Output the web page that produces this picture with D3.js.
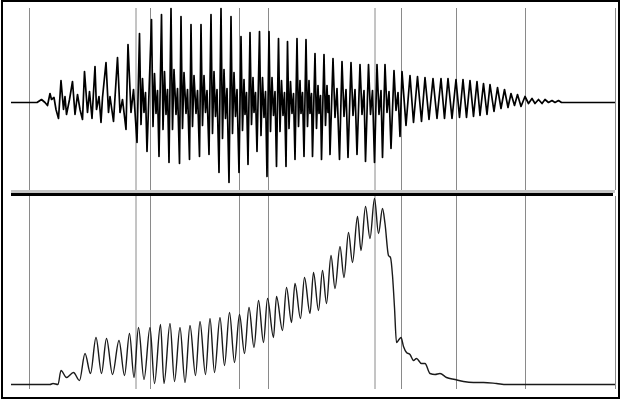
<!DOCTYPE html>
<html>
<head>
<meta charset="utf-8">
<script src="https://cdn.jsdelivr.net/npm/d3@7"></script>
<style>
	body { margin: 0; background: #fff; }
	svg { display: block; }
</style>
</head>
<body>
<div id="chart"></div>
<script>
// time in ms, segment marks
var gridTimes = [37, 250, 279, 457, 515, 728, 781, 891, 1029, 1209];

// top panel: waveform extrema [time ms, amplitude]
var wave = [
	[0,0],[52,0],[61,3],[68,0],[73,-3],[78,9],[81,3],[86,5],[90,-7],[95,-16],
	[100,22],[105,-7],[108,6],[111,-12],[117,3],[123,21],[128,-12],[133,8],[138,-7],[143,-17],
	[147,31],[153,-10],[157,11],[162,-16],[168,36],[171,-7],[176,6],[180,-20],[183,5],[190,40],
	[195,-10],[198,6],[205,-19],[213,45],[218,-10],[223,3],[230,-27],[234,58],[240,-10],[245,13],[252,-40],
	[257,69],[260,-22],[263,24],[266,-10],[269,10],[272,-49],
	[281,83],[284,-24],[287,29],[290,-11],[293,12],[296,-54],
	[301,88],[304,-27],[307,31],[310,-12],[313,13],[316,-60],
	[320,94],[323,-27],[326,33],[330,-12],[333,14],[337,-61],
	[340,86],[343,-26],[346,30],[350,-11],[353,13],[357,-57],
	[360,78],[363,-24],[366,27],[370,-11],[373,12],[377,-54],
	[380,78],[383,-23],[386,27],[389,-10],[392,12],[396,-52],
	[400,88],[403,-31],[406,31],[409,-14],[412,13],[416,-70],
	[420,94],[423,-36],[426,33],[429,-16],[432,14],[436,-80],
	[440,86],[443,-31],[446,30],[449,-14],[452,13],[456,-70],
	[460,66],[463,-28],[466,23],[468,-12],[471,10],[474,-62],
	[478,70],[481,-22],[484,25],[486,-10],[489,10],[492,-49],
	[497,71],[500,-33],[503,25],[506,-15],[509,11],[512,-74],
	[516,71],[519,-29],[522,25],[525,-13],[528,11],[531,-64],
	[535,64],[538,-29],[541,22],[544,-13],[547,10],[550,-64],
	[553,61],[556,-26],[559,21],[562,-11],[565,9],[568,-57],
	[572,64],[575,-24],[578,22],[580,-11],[583,10],[586,-54],
	[590,63],[593,-24],[596,22],[598,-11],[601,9],[603,-54],
	[608,49],[611,-26],[614,17],[616,-11],[619,7],[621,-57],
	[626,48],[629,-23],[632,17],[634,-10],[636,7],[638,-52],
	[644,44],[648,-15],[652,14],[657,-57],
	[662,41],[666,-14],[670,13],[674,-55],
	[680,40],[684,-13],[688,13],[692,-52],
	[698,38],[702,-12],[706,12],[709,-59],
	[715,38],[719,-12],[723,12],[727,-60],
	[732,38],[736,-12],[740,12],[743,-55],
	[748,38],[752,-10],[756,11],[760,-46],
	[766,32],[770,-8],[774,10],[778,-34],
	[782,31],[790,-23],[798,27],[805,-20],[813,26],[821,-19],[828,25],[836,-17],
	[844,24],[852,-16],[860,24],[867,-16],[874,24],[882,-16],[890,23],[897,-15],
	[904,23],[911,-15],[918,22],[925,-14],[932,21],[938,-13],[945,19],[952,-12],
	[958,18],[966,-9],[973,15],[980,-6],[987,13],[994,-5],[1000,9],[1007,-3],
	[1013,8],[1020,-4],[1028,6],[1035,-1],[1042,4],[1048,-1],[1055,3],[1062,-1],
	[1068,3],[1075,0],[1082,2],[1088,0],[1095,2],[1101,0],[1208,0]
];

// bottom panel: intensity curve [time ms, level]
var envelope = [
	[0,0],[78,0],[84,1],[94,0],[100,14],[111,7],[125,12],[137,4],[148,31],[159,11],
	[170,47],[181,11],[191,46],[203,10],[216,44],[227,9],[237,51],[246,7],[255,57],[266,5],
	[278,57],[287,1],[299,60],[306,1],[318,61],[327,3],[338,57],[348,2],[358,59],[369,9],
	[378,63],[389,10],[398,66],[407,12],[418,67],[427,19],[437,72],[447,22],[457,70],[467,31],
	[476,77],[486,37],[495,84],[505,42],[513,86],[525,47],[531,88],[543,54],[551,97],[561,62],
	[568,101],[579,66],[587,107],[598,71],[605,112],[615,74],[623,114],[631,81],[640,129],[648,96],
	[658,138],[666,107],[675,152],[683,122],[693,168],[700,134],[709,178],[718,146],[727,186],[735,151],
	[743,176],[748,161],[755,129],[759,127],[763,109],[767,77],[771,42],[776,45],[780,47],[785,38],
	[791,32],[798,30],[805,24],[811,26],[821,21],[828,21],[838,11],[848,10],[858,11],[871,7],
	[888,5],[905,3],[925,2],[945,2],[971,1],[991,0],[1208,0]
];

var width = 621;
var height = 401;

var svg = d3.select('#chart')
	.append('svg')
	.attr('width', width)
	.attr('height', height);

svg.append('rect')
	.attr('width', width)
	.attr('height', height)
	.attr('fill', '#fff');

var x = d3.scaleLinear().domain([0, 1208]).range([11, 615]);
var yTop = d3.scaleLinear().domain([-95, 95]).range([197.5, 7.5]);
var yBot = d3.scaleLinear().domain([0, 186]).range([384.5, 198.5]);

// vertical marks, one run per panel
var panels = [[8, 190], [196, 389]];
panels.forEach(function(p){
	svg.append('g').selectAll('line')
		.data(gridTimes)
		.enter()
		.append('line')
		.attr('x1', function(d){ return x(d); })
		.attr('x2', function(d){ return x(d); })
		.attr('y1', p[0])
		.attr('y2', p[1])
		.attr('stroke', '#8a8a8a')
		.attr('stroke-width', 1);
});

var waveLine = d3.line()
	.x(function(d){ return x(d[0]); })
	.y(function(d){ return yTop(d[1]); });

svg.append('path')
	.datum(wave)
	.attr('d', waveLine)
	.attr('fill', 'none')
	.attr('stroke', '#000')
	.attr('stroke-width', 1.7)
	.attr('stroke-linejoin', 'round');

var envLine = d3.line()
	.curve(d3.curveMonotoneX)
	.x(function(d){ return x(d[0]); })
	.y(function(d){ return yBot(d[1]); });

svg.append('path')
	.datum(envelope)
	.attr('d', envLine)
	.attr('fill', 'none')
	.attr('stroke', '#1a1a1a')
	.attr('stroke-width', 1.4);

// divider between the two panels
svg.append('line')
	.attr('x1', 11).attr('x2', 615)
	.attr('y1', 191.5).attr('y2', 191.5)
	.attr('stroke', '#c4c4c4')
	.attr('stroke-width', 3);
svg.append('line')
	.attr('x1', 11).attr('x2', 613)
	.attr('y1', 194.5).attr('y2', 194.5)
	.attr('stroke', '#000')
	.attr('stroke-width', 3);

// outer frame
svg.append('rect')
	.attr('x', 2)
	.attr('y', 1)
	.attr('width', 617)
	.attr('height', 397)
	.attr('fill', 'none')
	.attr('stroke', '#000')
	.attr('stroke-width', 2);
</script>
</body>
</html>
